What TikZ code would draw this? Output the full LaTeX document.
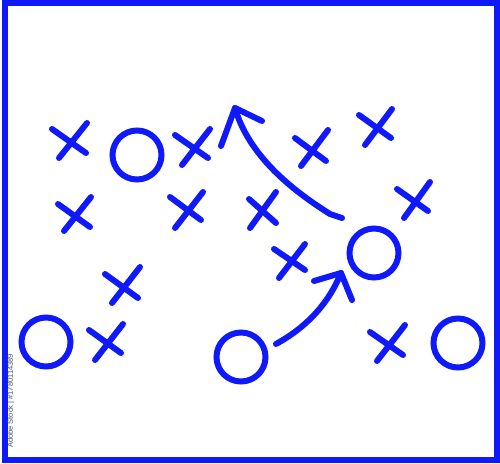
\documentclass[tikz,border=0pt]{standalone}
\usepackage{fontspec}
\newfontfamily\wmfont{Liberation Sans}
\definecolor{pen}{RGB}{15,25,250}
\begin{document}
\begin{tikzpicture}[x=1pt,y=-1pt,
  stroke/.style={draw=pen,line width=6pt,line cap=round,line join=round},
  ring/.style={circle,draw=pen,line width=6pt,minimum size=49pt,inner sep=0pt},
  frame/.style={draw=pen,line width=6pt},
  wmark/.style={rotate=90,text=black!70,inner sep=0pt,font=\wmfont\fontsize{7.5}{8}\selectfont}]
\useasboundingbox (0,0) rectangle (500,463);
\draw[frame] (4.5,3) rectangle (496.5,460);
% circles
\node[ring] (o1) at (137,155) {};
\node[ring] (o2) at (374,253) {};
\node[ring] (o3) at (458,343) {};
\node[ring] (o4) at (241,357) {};
\node[ring] (o5) at (46,342) {};
% crosses
\draw[stroke] (52,129) -- (86,153) (87,123) -- (59,158);
\draw[stroke] (175,135) -- (208,158) (210,129) -- (182,165);
\draw[stroke] (58,204) -- (90,227) (91,197) -- (64,231);
\draw[stroke] (170,197) -- (201,220) (203,192) -- (175,228);
\draw[stroke] (295,138) -- (326,161) (328,130) -- (301,166);
\draw[stroke] (359,115) -- (391,138) (392,109) -- (365,145);
\draw[stroke] (397,189) -- (428,211) (430,182) -- (404,218);
\draw[stroke] (249,199) -- (276,223) (276,192) -- (250,228);
\draw[stroke] (274,249) -- (305,270) (305,244) -- (279,278);
\draw[stroke] (370,332) -- (403,355) (405,325) -- (377,361);
\draw[stroke] (105,274) -- (138,298) (140,267) -- (112,303);
\draw[stroke] (89,330) -- (121,353) (123,324) -- (95,360);
% arrow 1
\coordinate (a1s) at (342,218);
\coordinate (a1m) at (330,214);
\coordinate (a1t) at (235,108);
\coordinate (a1l) at (221,146);
\coordinate (a1r) at (262,121);
\draw[stroke] (a1s) -- (a1m) .. controls (300,195) and (250,160) .. (a1t);
\draw[stroke] (a1l) -- (a1t) -- (a1r);
% arrow 2
\coordinate (a2s) at (276,344);
\coordinate (a2t) at (341,273);
\coordinate (a2l) at (314,281);
\coordinate (a2r) at (352,300);
\draw[stroke] (a2s) .. controls (305,328) and (328,305) .. (a2t);
\draw[stroke] (a2l) -- (a2t) -- (a2r);
% side text
\node[wmark] (wm) at (11,401) {Adobe Stock | \#1780114389};
\end{tikzpicture}
\end{document}
